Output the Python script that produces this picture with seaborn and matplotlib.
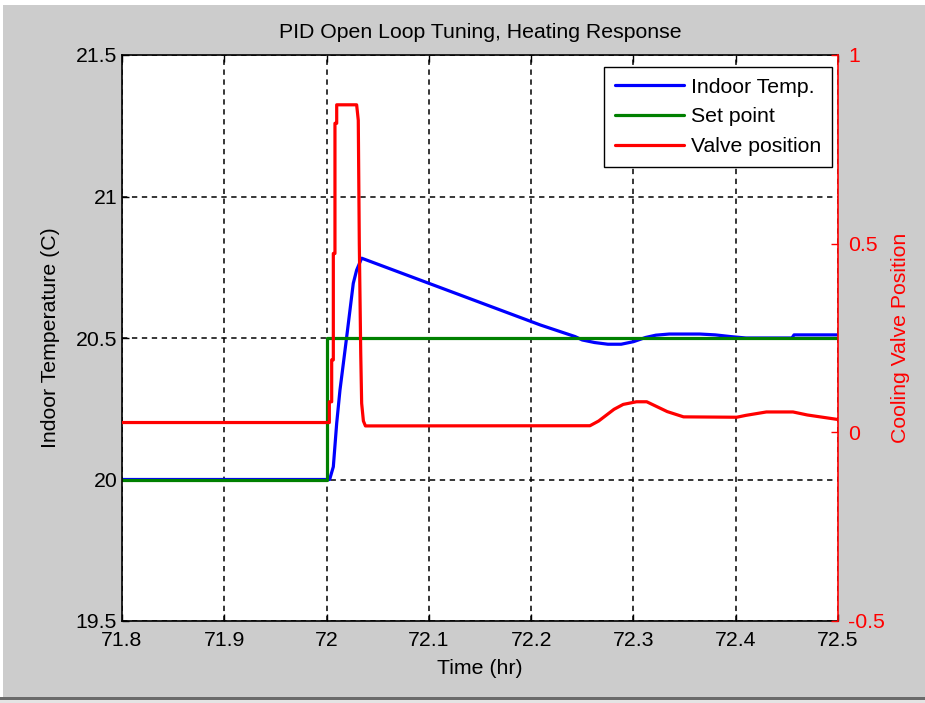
import matplotlib
matplotlib.use("Agg")
import matplotlib.pyplot as plt
from matplotlib.patches import Rectangle
import seaborn as sns
import pandas as pd

# Indoor temperature (C)
temp_time = [71.8, 72.003, 72.0066, 72.0099, 72.0131, 72.0164, 72.0197, 72.0229,
             72.0261, 72.0294, 72.0343, 72.209, 72.243, 72.25, 72.262, 72.275,
             72.288, 72.30, 72.312, 72.322, 72.335, 72.365, 72.38, 72.395, 72.41,
             72.455, 72.457, 72.5]
temp_value = [20.0, 20.0, 20.045, 20.199, 20.316, 20.41, 20.505, 20.599,
              20.693, 20.74, 20.782, 20.546, 20.505, 20.493, 20.484, 20.478,
              20.478, 20.487, 20.502, 20.510, 20.514, 20.514, 20.511, 20.505, 20.50,
              20.50, 20.511, 20.511]

# Set point (C)
setpoint_time = [71.8, 72.0, 72.0, 72.5]
setpoint_value = [20.0, 20.0, 20.5, 20.5]

# Cooling valve position (fraction open)
valve_time = [71.8, 72.0027, 72.0027, 72.005, 72.005, 72.0066, 72.0066, 72.0082,
              72.0082, 72.0099, 72.0099, 72.0294, 72.031, 72.032, 72.0334, 72.0343,
              72.036, 72.038, 72.2575, 72.266, 72.281, 72.29, 72.303, 72.313,
              72.323, 72.333, 72.349, 72.401, 72.41, 72.43, 72.456, 72.47,
              72.485, 72.5]
valve_value = [0.026, 0.026, 0.081, 0.081, 0.192, 0.192, 0.474, 0.474,
               0.819, 0.819, 0.868, 0.868, 0.827, 0.50, 0.209, 0.077,
               0.03, 0.017, 0.0175, 0.03, 0.061, 0.074, 0.081, 0.081,
               0.068, 0.055, 0.041, 0.040, 0.045, 0.054, 0.054, 0.046,
               0.040, 0.034]

x_ticks = [71.8, 71.9, 72.0, 72.1, 72.2, 72.3, 72.4, 72.5]
x_tick_labels = ["71.8", "71.9", "72", "72.1", "72.2", "72.3", "72.4", "72.5"]
left_ticks = [19.5, 20.0, 20.5, 21.0, 21.5]
left_tick_labels = ["19.5", "20", "20.5", "21", "21.5"]
right_ticks = [-0.5, 0.0, 0.5, 1.0]
right_tick_labels = ["-0.5", "0", "0.5", "1"]

sns.set_theme(style="ticks")
plt.rcParams["font.family"] = ["Liberation Sans", "DejaVu Sans"]
FS = 15.3

W, H = 925, 703
fig = plt.figure(figsize=(W / 100, H / 100), dpi=100, facecolor="#cccccc")

# window edges
fig.add_artist(Rectangle((0, 1 - 5 / H), 1, 5 / H, transform=fig.transFigure,
                         facecolor="white", edgecolor="none"))
fig.add_artist(Rectangle((0, 0), 3 / W, 1, transform=fig.transFigure,
                         facecolor="white", edgecolor="none"))
fig.add_artist(Rectangle((0, 0), 1, 3 / H, transform=fig.transFigure,
                         facecolor="#e4e4e4", edgecolor="none"))
fig.add_artist(Rectangle((0, 3 / H), 1, 3 / H, transform=fig.transFigure,
                         facecolor="#6a6a6a", edgecolor="none"))

L, R, T, B = 122, 838, 55, 621
ax = fig.add_axes([L / W, 1 - B / H, (R - L) / W, (B - T) / H])
ax.set_facecolor("white")

temp_df = pd.DataFrame({"t": temp_time, "v": temp_value})
sp_df = pd.DataFrame({"t": setpoint_time, "v": setpoint_value})
valve_df = pd.DataFrame({"t": valve_time, "v": valve_value})

lw = 2.3
sns.lineplot(data=temp_df, x="t", y="v", ax=ax, color="#0000ff", lw=lw,
             estimator=None, sort=False, label="Indoor Temp.", legend=False)
sns.lineplot(data=sp_df, x="t", y="v", ax=ax, color="#008000", lw=lw,
             estimator=None, sort=False, label="Set point", legend=False)

ax.set_xlim(71.8, 72.5)
ax.set_ylim(19.5, 21.5)
ax.set_xticks(x_ticks)
ax.set_xticklabels(x_tick_labels)
ax.set_yticks(left_ticks)
ax.set_yticklabels(left_tick_labels)
ax.grid(True, color="black", linestyle=(0, (3.5, 3)), linewidth=1.1)
ax.tick_params(axis="both", direction="in", length=5, width=1, colors="black",
               labelsize=FS, top=True)
ax.tick_params(axis="x", pad=7.5)
ax.tick_params(axis="y", pad=3.5)
for s in ["left", "bottom", "top"]:
    ax.spines[s].set_color("black")
    ax.spines[s].set_linewidth(1.2)
ax.spines["right"].set_visible(False)

ax.set_xlabel("Time (hr)", fontsize=FS, color="black")
ax.set_ylabel("Indoor Temperature (C)", fontsize=FS, color="black")
ax.xaxis.set_label_coords(0.5, -47 / (B - T))
ax.xaxis.label.set_va("center")
ax.yaxis.set_label_coords((50 - L) / (R - L), 0.5)
ax.yaxis.label.set_va("center")
ax.text(0.5, 1 + 23 / (B - T), "PID Open Loop Tuning, Heating Response",
        transform=ax.transAxes, ha="center", va="center", fontsize=FS,
        color="black")

ax2 = ax.twinx()
sns.lineplot(data=valve_df, x="t", y="v", ax=ax2, color="#ff0000", lw=lw,
             estimator=None, sort=False, label="Valve position", legend=False)
ax2.set_ylim(-0.5, 1.0)
ax2.set_yticks(right_ticks)
ax2.set_yticklabels(right_tick_labels)
ax2.set_xlim(71.8, 72.5)
ax2.tick_params(axis="y", direction="in", length=5, width=1, colors="#ff0000",
                labelsize=FS, pad=7.5)
for s in ["left", "bottom", "top"]:
    ax2.spines[s].set_visible(False)
ax2.spines["right"].set_color("#ff0000")
ax2.spines["right"].set_linewidth(1.2)
ax2.set_ylabel("Cooling Valve Position", fontsize=FS, color="#ff0000",
               rotation=90)
ax2.yaxis.set_label_coords((901 - L) / (R - L), 0.5)
ax2.yaxis.label.set_va("center")

h1, l1 = ax.get_legend_handles_labels()
h2, l2 = ax2.get_legend_handles_labels()
leg = ax2.legend(h1 + h2, l1 + l2, loc="upper right",
                 bbox_to_anchor=(832 / W, 1 - 67 / H),
                 bbox_transform=fig.transFigure, borderaxespad=0,
                 fontsize=FS, frameon=True, fancybox=False, framealpha=1,
                 edgecolor="black", handlelength=3.25, handletextpad=0.35,
                 labelspacing=0.51, borderpad=0.5)
leg.get_frame().set_linewidth(1.0)
for txt in leg.get_texts():
    txt.set_color("black")

fig.savefig("out.png", dpi=100, facecolor=fig.get_facecolor())
